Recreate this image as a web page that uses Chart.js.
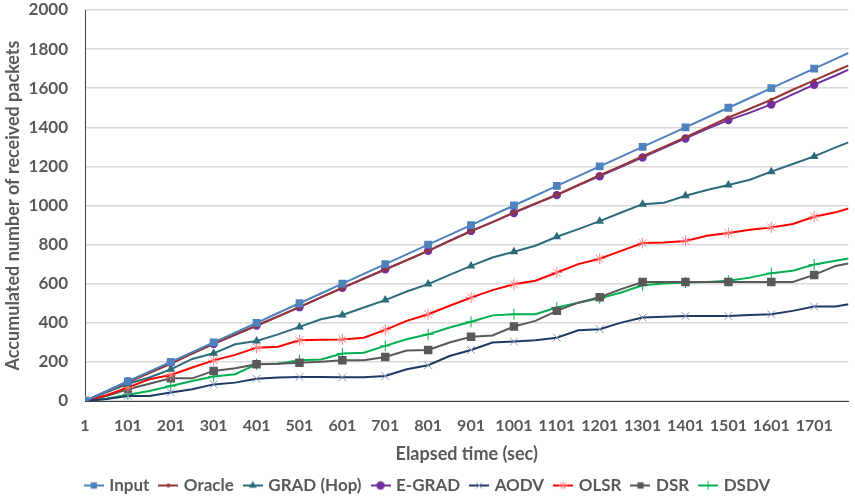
<!DOCTYPE html>
<html>
<head>
<meta charset="utf-8">
<script src="https://cdn.jsdelivr.net/npm/chart.js@4/dist/chart.umd.min.js"></script>
<style>
html,body{margin:0;padding:0;background:#fff;}
#wrap{width:855px;height:504px;position:relative;}
</style>
</head>
<body>
<div id="wrap"><canvas id="c" width="855" height="504"></canvas></div>
<script>
// ---- data ----
const xs = [1,51,101,151,201,251,301,351,401,451,501,551,601,651,701,751,801,851,901,951,1001,1051,1101,1151,1201,1251,1301,1351,1401,1451,1501,1551,1601,1651,1701,1751,1781];
const xTicks = [1,101,201,301,401,501,601,701,801,901,1001,1101,1201,1301,1401,1501,1601,1701];
const seriesNames = ["Input","Oracle","GRAD (Hop)","E-GRAD","AODV","OLSR","DSR","DSDV"];
const input  = [0,50,100,150,200,250,300,350,400,450,500,550,600,650,700,750,800,850,900,950,1000,1050,1100,1150,1200,1250,1300,1350,1400,1450,1500,1550,1600,1650,1700,1750,1780];
const oracle = [0,48,95,143,190,243,293,340,385,432,480,530,578,625,672,720,768,818,868,915,965,1010,1055,1105,1155,1203,1252,1300,1350,1400,1450,1495,1541,1592,1640,1688,1716];
const grad   = [0,45,88,120,162,215,244,290,307,341,379,418,440,478,516,560,598,645,691,734,763,794,840,879,920,964,1007,1014,1050,1079,1105,1132,1173,1212,1251,1297,1323];
const egrad  = [0,50,100,148,196,244,292,339,386,433,480,530,579,627,674,721,768,820,870,915,962,1008,1053,1103,1150,1198,1246,1295,1343,1392,1437,1475,1517,1568,1618,1665,1695];
const aodv   = [0,10,26,26,43,60,85,94,114,120,123,123,121,121,128,162,183,230,261,299,304,311,324,362,367,401,427,431,435,435,435,440,444,461,483,483,495];
const olsr   = [0,30,70,111,133,171,208,236,273,278,311,313,315,324,364,410,444,487,529,567,597,615,657,700,728,768,808,811,819,845,859,876,888,905,942,965,985];
const dsr    = [0,25,60,88,116,116,154,167,188,191,196,201,208,209,225,258,261,299,329,335,381,410,461,503,531,572,609,609,609,609,609,609,609,609,645,691,703];
const dsdv   = [0,12,32,51,77,102,125,137,188,190,208,212,243,247,282,316,341,376,405,438,444,444,478,503,525,555,592,601,606,609,615,631,654,666,698,717,729];
const yTitle = "Accumulated number of received packets";
const xTitle = "Elapsed time (sec)";

// ---- styles ----
const styles = [
  {line:"#4F81BD", pt:"#4F81BD", shape:"rect", r:5.5, w:2},
  {line:"#953735", pt:"#953735", shape:"circle", r:2, w:2},
  {line:"#2C6B7B", pt:"#2C6B7B", shape:"triangle", r:5, w:2},
  {line:"#7030A0", pt:"#7030A0", shape:"circle", r:4.2, w:2},
  {line:"#1F3864", pt:"#8096BE", shape:"crossRot", r:5.5, w:2},
  {line:"#FF0000", pt:"#FF8080", shape:"star", r:5.5, w:2},
  {line:"#595959", pt:"#595959", shape:"rect", r:6, w:2},
  {line:"#00B050", pt:"#00B050", shape:"cross", r:5.5, w:2}
];
const allData = [input, oracle, grad, egrad, aodv, olsr, dsr, dsdv];

function drawShape(ctx, shape, x, y, r, color){
  ctx.save();
  ctx.fillStyle = color; ctx.strokeStyle = color; ctx.lineWidth = 1;
  ctx.beginPath();
  if (shape === "rect") {
    const s = r*Math.SQRT1_2; ctx.rect(x-s, y-s, 2*s, 2*s); ctx.fill();
  } else if (shape === "circle") {
    ctx.arc(x, y, r, 0, Math.PI*2); ctx.fill();
  } else if (shape === "triangle") {
    ctx.moveTo(x, y-r); ctx.lineTo(x+r*0.87, y+r*0.5); ctx.lineTo(x-r*0.87, y+r*0.5); ctx.closePath(); ctx.fill();
  } else if (shape === "cross") {
    ctx.moveTo(x-r,y); ctx.lineTo(x+r,y); ctx.moveTo(x,y-r); ctx.lineTo(x,y+r); ctx.stroke();
  } else if (shape === "crossRot") {
    const s=r*0.7; ctx.moveTo(x-s,y-s); ctx.lineTo(x+s,y+s); ctx.moveTo(x+s,y-s); ctx.lineTo(x-s,y+s); ctx.stroke();
  } else if (shape === "star") {
    const s=r*0.7; ctx.moveTo(x-r,y); ctx.lineTo(x+r,y); ctx.moveTo(x,y-r); ctx.lineTo(x,y+r);
    ctx.moveTo(x-s,y-s); ctx.lineTo(x+s,y+s); ctx.moveTo(x+s,y-s); ctx.lineTo(x-s,y+s); ctx.stroke();
  }
  ctx.restore();
}
function legendIcon(st){
  const c = document.createElement('canvas');
  c.width = 20; c.height = 12;
  const g = c.getContext('2d');
  g.strokeStyle = st.line; g.lineWidth = 2;
  g.beginPath(); g.moveTo(0,6); g.lineTo(20,6); g.stroke();
  drawShape(g, st.shape, 10, 6, Math.min(st.r, 4.5), st.pt);
  return c;
}
const icons = styles.map(legendIcon);

const datasets = seriesNames.map((name, i) => ({
  label: name,
  data: xs.map((x, k) => ({x: x, y: allData[i][k]})),
  borderColor: styles[i].line,
  backgroundColor: styles[i].pt,
  pointBackgroundColor: styles[i].pt,
  pointBorderColor: styles[i].pt,
  pointBorderWidth: (styles[i].shape === "cross" || styles[i].shape === "crossRot" || styles[i].shape === "star") ? 1 : 0,
  pointStyle: styles[i].shape,
  pointRadius: ctx => ((ctx.raw && (ctx.raw.x - 1) % 100 === 0) ? styles[i].r : 0),
  pointHoverRadius: 0,
  borderWidth: styles[i].w,
  tension: 0,
  fill: false
}));

const FONT = "Lato, 'Open Sans', sans-serif";
const GRAY = "#595959";
const F18 = { family: FONT, size: 18, weight: 'bold' };
const F16 = { family: FONT, size: 16, weight: 'bold' };
const F17 = { family: FONT, size: 17, weight: 'bold' };

new Chart(document.getElementById('c'), {
  type: 'line',
  data: { datasets },
  options: {
    responsive: false,
    animation: false,
    layout: { padding: { left: 2, right: 0, top: 10, bottom: 0 } },
    plugins: {
      tooltip: { enabled: false },
      legend: {
        position: 'bottom',
        labels: {
          usePointStyle: true,
          pointStyleWidth: 14,
          padding: 12,
          color: GRAY,
          font: F17,
          generateLabels: chart => chart.data.datasets.map((ds, i) => ({
            text: ds.label,
            pointStyle: icons[i],
            fillStyle: styles[i].line,
            strokeStyle: styles[i].line,
            lineWidth: 0,
            fontColor: GRAY,
            hidden: false,
            datasetIndex: i
          }))
        }
      }
    },
    scales: {
      x: {
        type: 'linear',
        min: 1, max: 1781,
        afterBuildTicks: axis => { axis.ticks = xTicks.map(v => ({ value: v })); },
        afterFit: s => { s.height = 64; },
        grid: { display: false },
        border: { display: true, color: "#404040", width: 1 },
        ticks: {
          color: GRAY, padding: 7, maxRotation: 0, autoSkip: false,
          font: F16,
          callback: v => String(v)
        },
        title: { display: true, text: xTitle, color: GRAY, padding: { top: 4, bottom: 0 }, font: F18 }
      },
      y: {
        min: 0, max: 2000,
        afterFit: s => { s.width = 83; s.paddingTop = 0; s.paddingBottom = 0; },
        ticks: { stepSize: 200, color: GRAY, padding: 17, font: F17, callback: v => String(v) },
        grid: { color: "#D9D9D9", lineWidth: 1.5, drawTicks: false },
        border: { display: true, color: "#404040", width: 1 },
        title: { display: true, text: yTitle, color: GRAY, padding: { top: 0, bottom: 4 }, font: F18 }
      }
    }
  }
});
</script>
</body>
</html>
